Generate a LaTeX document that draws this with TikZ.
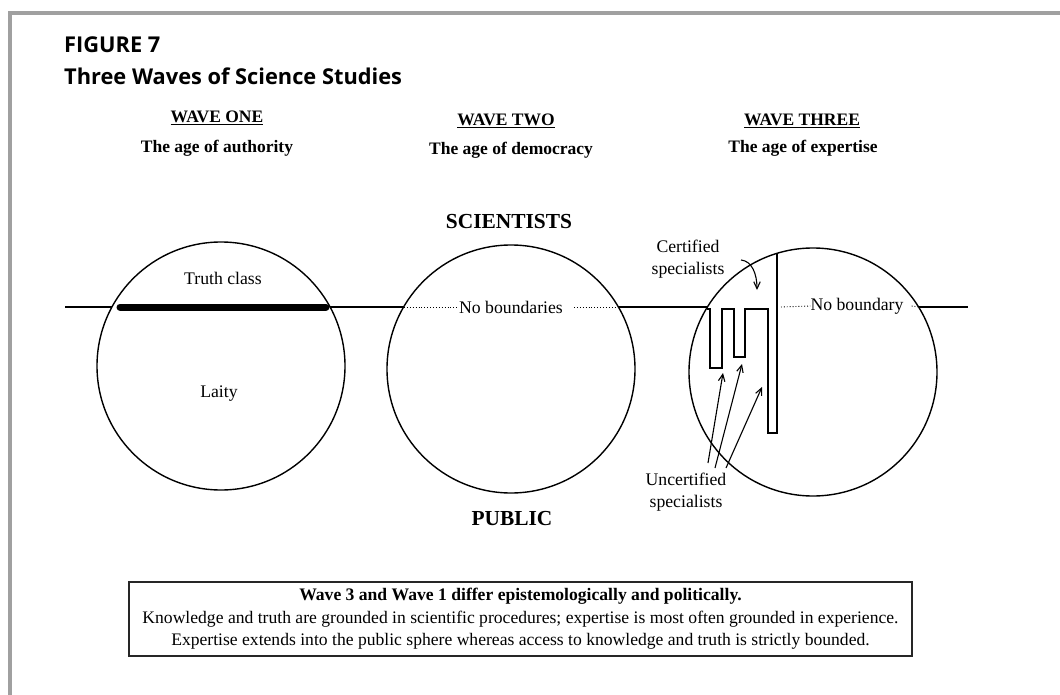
\documentclass[tikz,border=0pt]{standalone}
\usepackage{fontspec}
\setmainfont{Liberation Serif}
\newfontfamily\headfont{Open Sans}
\usetikzlibrary{arrows.meta}
\definecolor{framegray}{HTML}{A0A0A0}

\begin{document}
\begin{tikzpicture}[x=1pt,y=-1pt,
  lbl/.style={inner sep=0pt, font=\fontsize{17.7}{22}\selectfont},
  wavehead/.style={inner sep=0pt, font=\fontsize{17.5}{21}\selectfont\bfseries},
  bigcap/.style={inner sep=0pt, font=\fontsize{21.4}{25}\selectfont\bfseries},
  heading/.style={anchor=west, inner sep=0pt, font=\headfont\fontsize{21.8}{26}\selectfont\bfseries},
  sphere/.style={circle, draw, line width=1.4pt, minimum size=248pt, inner sep=0pt},
  divide/.style={line width=2.9pt},
  open/.style={dotted, line width=0.9pt},
  comb/.style={line width=1.5pt, line join=miter},
  pointer/.style={line width=1.1pt, -{Straight Barb[length=7pt,width=6.5pt]}}]
\useasboundingbox (0,0) rectangle (1060,695);

% page frame
\draw[framegray, line width=4.5pt] (10,700) |- (1065,13);

% heading
\node[heading] (fig) at (64,45) {FIGURE 7};
\node[heading] (ttl) at (64,76) {Three Waves of Science Studies};

% wave headers
\node[wavehead] (w1) at (217,118) {\underline{WAVE ONE}};
\node[wavehead] (a1) at (217,148) {The age of authority};
\node[wavehead] (w2) at (506,121) {\underline{WAVE TWO}};
\node[wavehead] (a2) at (511,150) {The age of democracy};
\node[wavehead] (w3) at (802,121) {\underline{WAVE THREE}};
\node[wavehead] (a3) at (803,148) {The age of expertise};

\node[bigcap] (sci) at (509,222) {SCIENTISTS};
\node[bigcap] (pub) at (512,519) {PUBLIC};

% the three spheres
\node[sphere] (c1) at (221,366) {};
\node[sphere] (c2) at (511,369) {};
\node[sphere] (c3) at (813,372) {};

% where the dividing line meets each sphere
\coordinate (l0) at (65,307);
\coordinate (c1w) at (112,307);
\coordinate (c1e) at (330,307);
\coordinate (c2w) at (404,307);
\coordinate (c2e) at (618,307);
\coordinate (c3w) at (707,307);
\coordinate (c3e) at (919,307);
\coordinate (l1) at (968,307);

% wave one: closed truth class
\draw[divide] (l0) -- (c1w);
\draw[line width=7pt, line cap=round] (120,307) -- (326,307);
\draw[divide] (c1e) -- (c2w);
\node[lbl] (tc) at (223,278) {Truth class};
\node[lbl] (lai) at (219,394) {Laity};

% wave two: no boundaries
\node[lbl, fill=white, inner xsep=1pt] (nb) at (511,307) {No boundaries};
\draw[open] (c2w) -- (nb.west);
\draw[open] ([xshift=10pt]nb.east) -- (c2e);
\draw[divide] (c2e) -- (c3w);

% wave three: comb of specialists and the open boundary
\draw[comb] (707,309) -- (710,309) -- (710,368) -- (722,368) -- (722,309)
  -- (734,309) -- (734,357) -- (745,357) -- (745,309) -- (768,309)
  -- (768,433) -- (777,433) -- (777,253);
\node[lbl] (nby) at (857,306) {No boundary};
\draw[open] (781,307) -- (nby.west);
\draw[open] ([xshift=8pt]nby.east) -- (c3e);
\draw[divide] (c3e) -- (l1);

\node[lbl, align=center] (cert) at (688,259) {Certified\\specialists};
\node[lbl, align=center] (unc) at (686,492) {Uncertified\\specialists};

\coordinate (cs) at (741,260);
\coordinate (ct) at (757,290);
\draw[pointer] (cs) .. controls (752,261) and (757,274) .. (ct);

\coordinate (u1s) at (708,463);
\coordinate (u1t) at (723,373);
\coordinate (u2s) at (715,468);
\coordinate (u2t) at (742,364);
\coordinate (u3s) at (726,468);
\coordinate (u3t) at (762,387);
\draw[pointer] (u1s) -- (u1t);
\draw[pointer] (u2s) -- (u2t);
\draw[pointer] (u3s) -- (u3t);

% summary box
\node[draw=black!85, line width=1.2pt, minimum width=783pt, minimum height=74pt,
  inner sep=0pt, align=center, font=\fontsize{17.6}{22.5}\selectfont] (sum) at (520.5,619)
  {\textbf{Wave 3 and Wave 1 differ epistemologically and politically.}\\
   Knowledge and truth are grounded in scientific procedures; expertise is most often grounded in experience.\\
   Expertise extends into the public sphere whereas access to knowledge and truth is strictly bounded.};
\end{tikzpicture}
\end{document}
